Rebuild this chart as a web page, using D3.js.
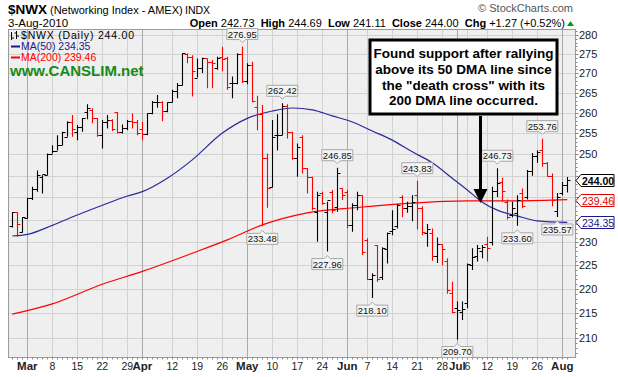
<!DOCTYPE html>
<html lang="en">
<head>
<meta charset="UTF-8" />
<title>$NWX Daily</title>
<style>
  body { margin: 0; background: #fff; }
  svg text { font-family: "Liberation Sans", Arial, sans-serif; }
</style>
</head>
<body>
<div id="chart"></div>
<script src="https://cdnjs.cloudflare.com/ajax/libs/d3/7.8.5/d3.min.js"></script>
<script>
// trading days shown on the chart
const dates = [
  "2010-02-24","2010-02-25","2010-02-26",
  "2010-03-01","2010-03-02","2010-03-03","2010-03-04","2010-03-05",
  "2010-03-08","2010-03-09","2010-03-10","2010-03-11","2010-03-12",
  "2010-03-15","2010-03-16","2010-03-17","2010-03-18","2010-03-19",
  "2010-03-22","2010-03-23","2010-03-24","2010-03-25","2010-03-26",
  "2010-03-29","2010-03-30","2010-03-31","2010-04-01",
  "2010-04-05","2010-04-06","2010-04-07","2010-04-08","2010-04-09",
  "2010-04-12","2010-04-13","2010-04-14","2010-04-15","2010-04-16",
  "2010-04-19","2010-04-20","2010-04-21","2010-04-22","2010-04-23",
  "2010-04-26","2010-04-27","2010-04-28","2010-04-29","2010-04-30",
  "2010-05-03","2010-05-04","2010-05-05","2010-05-06","2010-05-07",
  "2010-05-10","2010-05-11","2010-05-12","2010-05-13","2010-05-14",
  "2010-05-17","2010-05-18","2010-05-19","2010-05-20","2010-05-21",
  "2010-05-24","2010-05-25","2010-05-26","2010-05-27","2010-05-28",
  "2010-06-01","2010-06-02","2010-06-03","2010-06-04",
  "2010-06-07","2010-06-08","2010-06-09","2010-06-10","2010-06-11",
  "2010-06-14","2010-06-15","2010-06-16","2010-06-17","2010-06-18",
  "2010-06-21","2010-06-22","2010-06-23","2010-06-24","2010-06-25",
  "2010-06-28","2010-06-29","2010-06-30","2010-07-01","2010-07-02",
  "2010-07-06","2010-07-07","2010-07-08","2010-07-09",
  "2010-07-12","2010-07-13","2010-07-14","2010-07-15","2010-07-16",
  "2010-07-19","2010-07-20","2010-07-21","2010-07-22","2010-07-23",
  "2010-07-26","2010-07-27","2010-07-28","2010-07-29","2010-07-30",
  "2010-08-02","2010-08-03"
];

const open = [
  233.5, 236.6, 232.3,
  235.4, 239.8, 242.0, 244.7, 245.1,
  250.2, 250.9, 252.3, 254.2, 257.8,
  255.4, 256.6, 260.2, 260.8, 258.7,
  254.6, 257.8, 258.3, 260.2, 255.3,
  256.4, 258.0, 257.7, 256.2,
  254.8, 259.9, 262.7, 262.7, 260.5,
  262.7, 265.4, 267.0, 274.9, 274.3,
  268.9, 271.3, 273.85, 273.0, 271.3,
  274.3, 273.85, 267.5, 267.5, 274.9,
  268.1, 272.1, 261.6, 259.7, 249.1,
  242.3, 254.6, 254.6, 261.8, 255.4,
  249.1, 254.2, 246.7, 244.75, 236.75,
  240.9, 236.75, 241.3, 237.9, 242.1,
  241.3, 233.8, 238.3, 240.5,
  230.5, 222.2, 229.4, 222.5, 228.5,
  232.5, 233.5, 240.0, 237.5, 238.0,
  240.5, 237.5, 232.0, 232.0, 227.0,
  229.5, 226.0, 219.1, 216.0, 215.3,
  217.0, 225.0, 227.0, 228.0,
  229.5, 230.0, 241.5, 243.5, 239.0,
  236.0, 236.5, 241.0, 240.0, 246.0,
  249.5, 251.0, 248.0, 245.0, 237.0,
  241.0, 242.73
];
const high = [
  236.6, 236.6, 235.5,
  239.8, 242.4, 246.2, 245.1, 250.2,
  252.2, 254.6, 255.4, 258.0, 259.5,
  257.05, 258.8, 262.2, 261.2, 258.7,
  258.3, 259.5, 258.5, 260.2, 257.2,
  258.3, 259.9, 258.3, 257.8,
  259.9, 263.0, 264.5, 262.9, 262.7,
  265.8, 267.5, 275.2, 275.2, 274.7,
  273.85, 274.0, 273.85, 273.4, 274.3,
  276.9, 274.3, 269.2, 275.2, 276.95,
  272.6, 273.0, 264.3, 262.0, 250.2,
  258.3, 259.7, 262.42, 262.2, 255.4,
  252.6, 254.6, 246.7, 244.75, 241.3,
  241.3, 239.0, 241.7, 246.85, 242.1,
  241.7, 238.65, 241.3, 240.5,
  230.85, 223.3, 229.4, 228.9, 232.1,
  237.1, 238.5, 240.5, 239.0, 240.5,
  243.83, 238.0, 234.0, 233.0, 231.0,
  229.5, 226.5, 221.5, 217.4, 217.4,
  225.4, 228.7, 229.4, 229.4,
  231.2, 242.4, 246.73, 244.5, 239.5,
  239.0, 240.5, 242.0, 246.3, 250.3,
  251.0, 253.76, 248.2, 245.5, 241.0,
  243.5, 244.69
];
const low = [
  233.2, 231.2, 232.1,
  235.2, 239.4, 241.3, 240.9, 245.1,
  250.2, 250.9, 252.2, 254.2, 254.2,
  253.4, 255.4, 258.5, 257.5, 254.2,
  251.4, 256.2, 255.6, 255.0, 255.0,
  255.8, 256.2, 254.6, 253.4,
  254.6, 259.7, 261.3, 258.0, 260.2,
  262.7, 263.7, 266.9, 272.6, 264.1,
  268.9, 270.05, 266.2, 266.2, 270.9,
  270.5, 265.8, 263.7, 267.2, 267.5,
  267.2, 262.7, 255.8, 233.48, 237.65,
  242.3, 250.9, 254.6, 253.8, 248.7,
  244.75, 245.5, 240.9, 237.1, 230.1,
  238.3, 227.96, 236.4, 236.75, 239.4,
  233.05, 232.3, 237.1, 227.2,
  221.9, 218.10, 221.5, 221.9, 225.4,
  231.5, 233.0, 235.5, 236.5, 234.6,
  232.8, 231.5, 229.0, 226.0, 225.5,
  225.0, 219.0, 215.0, 209.70, 213.6,
  216.0, 224.0, 225.8, 226.5,
  225.8, 229.3, 240.1, 239.0, 235.0,
  235.5, 233.60, 237.5, 239.5, 245.0,
  248.0, 247.1, 244.75, 238.0, 235.57,
  240.5, 241.11
];
const close = [
  236.6, 234.0, 235.5,
  239.8, 242.0, 245.1, 245.3, 250.2,
  250.9, 252.3, 255.4, 257.8, 256.2,
  256.6, 258.7, 261.2, 258.7, 254.6,
  257.8, 258.4, 256.2, 255.3, 256.4,
  258.0, 257.7, 255.0, 254.8,
  259.9, 262.7, 262.8, 260.5, 262.7,
  265.4, 267.0, 275.2, 274.3, 270.6,
  271.3, 273.85, 272.8, 272.6, 273.85,
  273.6, 266.5, 267.5, 274.9, 268.1,
  272.1, 263.0, 259.7, 249.1, 242.1,
  254.2, 254.6, 261.8, 255.3, 249.1,
  251.8, 246.7, 244.75, 237.5, 240.5,
  238.65, 239.4, 237.1, 245.5, 240.5,
  233.8, 238.3, 240.5, 227.9,
  222.2, 223.0, 222.2, 228.7, 232.0,
  233.0, 238.3, 237.5, 238.0, 239.0,
  237.5, 232.3, 233.0, 227.0, 229.5,
  228.5, 219.7, 215.3, 215.6, 215.8,
  225.2, 226.8, 228.7, 229.0,
  228.8, 241.5, 243.3, 241.5, 235.5,
  237.5, 239.5, 238.0, 246.0, 249.5,
  250.5, 248.0, 245.0, 239.5, 240.0,
  242.73, 244.00
];

// moving averages at weekly points
const ma50Dates = ["2010-02-24","2010-03-01","2010-03-08","2010-03-15","2010-03-22","2010-03-29","2010-04-01",
  "2010-04-09","2010-04-16","2010-04-26","2010-05-03","2010-05-10","2010-05-14","2010-05-20","2010-05-26",
  "2010-06-02","2010-06-08","2010-06-14","2010-06-18","2010-06-24","2010-06-30","2010-07-06","2010-07-09",
  "2010-07-14","2010-07-20","2010-07-26","2010-08-03"];
const ma50 = [231.35, 231.7, 233.7, 236.0, 238.2, 240.3, 241.3,
  244.4, 248.7, 255.1, 258.7, 260.5, 261.25, 260.8, 259.3,
  257.8, 255.6, 253.4, 250.6, 248.0, 244.4, 241.7, 238.9,
  237.1, 235.8, 234.7, 234.35];
const ma200Dates = ["2010-02-24","2010-03-08","2010-03-22","2010-04-01","2010-04-16","2010-04-27","2010-05-06",
  "2010-05-19","2010-06-03","2010-06-18","2010-07-06","2010-07-20","2010-08-03"];
const ma200 = [214.8, 216.9, 221.0, 223.7, 227.6, 230.5, 233.8,
  236.5, 237.7, 238.7, 239.2, 239.2, 239.46];

const yTicks = [210, 215, 220, 225, 230, 235, 240, 245, 250, 255, 260, 265, 270, 275, 280];
// 235, 240 and 245 sit under the last-value markers, so they carry no text
const yTickLabels = ["210","215","220","225","230","","","","250","255","260","265","270","275","280"];
const xTickDates = ["2010-03-01","2010-03-08","2010-03-15","2010-03-22","2010-03-29","2010-04-01","2010-04-12",
  "2010-04-19","2010-04-26","2010-05-03","2010-05-10","2010-05-17","2010-05-24","2010-06-01","2010-06-07",
  "2010-06-14","2010-06-21","2010-06-28","2010-07-01","2010-07-06","2010-07-12","2010-07-19","2010-07-26","2010-08-02"];
const xTickLabels = ["Mar","8","15","22","29","Apr","12","19","26","May","10","17","24","Jun","7",
  "14","21","28","Jul","6","12","19","26","Aug"];

const noteDates = ["2010-04-30","2010-05-12","2010-05-06","2010-05-27","2010-05-25","2010-06-08",
  "2010-06-21","2010-07-01","2010-07-14","2010-07-20","2010-07-27","2010-07-30"];
const noteValues = [276.95, 262.42, 233.48, 246.85, 227.96, 218.10, 243.83, 209.70, 246.73, 233.60, 253.76, 235.57];
const noteBelow = [false, false, true, false, true, true, false, true, false, true, false, true];

const width = 618, height = 377;
const plot = { left: 8, right: 575, top: 29, bottom: 357 };

const x = d3.scalePoint().domain(dates).range([12.3, 567.3]);
const y = d3.scaleLog().domain([206.24, 281.6]).range([plot.bottom, plot.top]);

const svg = d3.select("#chart").append("svg")
  .attr("width", width).attr("height", height);

// plot background
svg.append("rect")
  .attr("x", plot.left).attr("y", plot.top)
  .attr("width", plot.right - plot.left).attr("height", plot.bottom - plot.top)
  .attr("fill", "#efefef");

svg.append("clipPath").attr("id", "clip").append("rect")
  .attr("x", plot.left).attr("y", plot.top)
  .attr("width", plot.right - plot.left).attr("height", plot.bottom - plot.top);

// grid
svg.append("g").selectAll("line").data(yTicks).join("line")
  .attr("x1", plot.left).attr("x2", plot.right)
  .attr("y1", d => Math.round(y(d)) + 0.5).attr("y2", d => Math.round(y(d)) + 0.5)
  .attr("stroke", "#d2d2d2");

svg.append("g").selectAll("line").data(xTickDates).join("line")
  .attr("x1", d => Math.round(x(d)) + 0.5).attr("x2", d => Math.round(x(d)) + 0.5)
  .attr("y1", plot.top).attr("y2", plot.bottom)
  .attr("stroke", (d, i) => isNaN(+xTickLabels[i]) ? "#aaaaaa" : "#d2d2d2");

// plot frame
svg.append("rect")
  .attr("x", plot.left + 0.5).attr("y", plot.top + 0.5)
  .attr("width", plot.right - plot.left).attr("height", plot.bottom - plot.top)
  .attr("fill", "none").attr("stroke", "#9a9a9a");

// minor ticks, right axis and bottom
const minorVals = d3.range(207, 282);
svg.append("g").selectAll("line").data(minorVals).join("line")
  .attr("x1", plot.right + 0.5).attr("x2", d => plot.right + (d % 5 === 0 ? 3.5 : 2.5))
  .attr("y1", d => Math.round(y(d)) + 0.5).attr("y2", d => Math.round(y(d)) + 0.5)
  .attr("stroke", "#888");
svg.append("g").selectAll("line").data(dates).join("line")
  .attr("x1", d => Math.round(x(d)) + 0.5).attr("x2", d => Math.round(x(d)) + 0.5)
  .attr("y1", plot.bottom + 0.5).attr("y2", plot.bottom + 2.5)
  .attr("stroke", "#888");

// right axis labels
svg.append("g").selectAll("text").data(yTicks).join("text")
  .attr("x", plot.right + 4).attr("y", d => y(d) + 4)
  .attr("font-size", 11).attr("fill", "#222")
  .text((d, i) => yTickLabels[i]);

// bottom axis labels
svg.append("g").selectAll("text").data(xTickDates).join("text")
  .attr("x", d => x(d)).attr("y", 370)
  .attr("text-anchor", "middle")
  .attr("font-size", (d, i) => isNaN(+xTickLabels[i]) ? 11.5 : 10.5)
  .attr("font-weight", (d, i) => isNaN(+xTickLabels[i]) ? "bold" : "normal")
  .attr("fill", "#222")
  .text((d, i) => xTickLabels[i]);

const body = svg.append("g").attr("clip-path", "url(#clip)");

// moving averages
const line = d3.line().curve(d3.curveMonotoneX);
body.append("path")
  .attr("d", line(ma200Dates.map((d, i) => [x(d), y(ma200[i])])))
  .attr("fill", "none").attr("stroke", "#ff0000").attr("stroke-width", 1.2);
body.append("path")
  .attr("d", line(ma50Dates.map((d, i) => [x(d), y(ma50[i])])))
  .attr("fill", "none").attr("stroke", "#2a2a9c").attr("stroke-width", 1.2);

// OHLC bars
const bars = dates.map((d, i) => ({
  d, o: open[i], h: high[i], l: low[i], c: close[i],
  up: i === 0 ? true : close[i] >= close[i - 1]
}));
const tick = 3;
body.append("g").selectAll("path").data(bars).join("path")
  .attr("d", b => {
    const cx = Math.round(x(b.d)) + 0.5;
    return `M${cx},${y(b.h)}V${y(b.l)}M${cx - tick},${Math.round(y(b.o)) + 0.5}H${cx}M${cx},${Math.round(y(b.c)) + 0.5}H${cx + tick}`;
  })
  .attr("fill", "none")
  .attr("stroke", b => b.up ? "#000" : "#ff0000")
  .attr("stroke-width", 1.1);

// high / low callouts
const noteG = svg.append("g");
noteDates.forEach((d, i) => {
  const cx = x(d), yv = y(noteValues[i]), below = noteBelow[i];
  const w = 31, h = 11;
  const l = cx - w / 2, r = cx + w / 2;
  let p;
  if (below) {
    const t = yv + 7;
    p = `M${l},${t}H${cx - 3}L${cx},${t - 3}L${cx + 3},${t}H${r}V${t + h}H${l}Z`;
    noteG.append("path").attr("d", p).attr("fill", "#f4f4f4").attr("stroke", "#a8a8a8");
    noteG.append("text").attr("x", cx).attr("y", t + 9).attr("text-anchor", "middle")
      .attr("font-size", 9.5).attr("fill", "#111").text(noteValues[i].toFixed(2));
  } else {
    const b = yv - 7;
    p = `M${l},${b}H${cx - 3}L${cx},${b + 3}L${cx + 3},${b}H${r}V${b - h}H${l}Z`;
    noteG.append("path").attr("d", p).attr("fill", "#f4f4f4").attr("stroke", "#a8a8a8");
    noteG.append("text").attr("x", cx).attr("y", b - 2).attr("text-anchor", "middle")
      .attr("font-size", 9.5).attr("fill", "#111").text(noteValues[i].toFixed(2));
  }
});

// last value markers on right axis
const lastMarks = [
  { v: 244.00, color: "#000", bold: true },
  { v: 239.46, color: "#e00000", bold: false },
  { v: 234.35, color: "#1a1a8c", bold: false }
];
lastMarks.forEach(m => {
  const yy = Math.round(y(m.v)) + 0.5, x0 = plot.right + 1;
  svg.append("path")
    .attr("d", `M${x0},${yy}L${x0 + 5},${yy - 6}H${x0 + 38}V${yy + 6}H${x0 + 5}Z`)
    .attr("fill", "#fff").attr("stroke", m.color);
  svg.append("text").attr("x", x0 + 6).attr("y", yy + 4)
    .attr("font-size", 10.5).attr("font-weight", m.bold ? "bold" : "normal")
    .attr("fill", m.color).text(m.v.toFixed(2));
});

// legend inside plot
svg.append("path").attr("d", "M11.5,32V40M11.5,38H14M16.5,31V39M14.5,33H16.5M16.5,36H19")
  .attr("stroke", "#000").attr("fill", "none");
svg.append("text").attr("x", 21).attr("y", 39).attr("font-size", 10.5)
  .attr("letter-spacing", 0.8).attr("fill", "#000").text("$NWX (Daily) 244.00");
svg.append("line").attr("x1", 11).attr("x2", 20).attr("y1", 46.5).attr("y2", 46.5)
  .attr("stroke", "#1a1a8c").attr("stroke-width", 2);
svg.append("text").attr("x", 21).attr("y", 50).attr("font-size", 10.5)
  .attr("fill", "#1a1a8c").text("MA(50) 234.35");
svg.append("line").attr("x1", 11).attr("x2", 20).attr("y1", 57.5).attr("y2", 57.5)
  .attr("stroke", "#ff0000").attr("stroke-width", 2);
svg.append("text").attr("x", 21).attr("y", 61).attr("font-size", 10.5)
  .attr("fill", "#ff0000").text("MA(200) 239.46");
svg.append("text").attr("x", 10).attr("y", 76).attr("font-size", 15)
  .attr("font-weight", "bold").attr("fill", "#178a17").text("www.CANSLIM.net");

// header
svg.append("text").attr("x", 8).attr("y", 14).attr("font-size", 13.5).attr("font-weight", "bold")
  .text("$NWX");
svg.append("text").attr("x", 50).attr("y", 14).attr("font-size", 11)
  .text("(Networking Index - AMEX)");
svg.append("text").attr("x", 185).attr("y", 14).attr("font-size", 10.5)
  .text("INDX");
svg.append("text").attr("x", 8).attr("y", 27).attr("font-size", 11.5).text("3-Aug-2010");
svg.append("text").attr("x", 573).attr("y", 12).attr("font-size", 11).attr("text-anchor", "end")
  .attr("fill", "#555").text("\u00a9 StockCharts.com");

const hdr = svg.append("text").attr("x", 565).attr("y", 27).attr("font-size", 11)
  .attr("text-anchor", "end");
[["Open", true], [" 242.73  ", false], ["High", true], [" 244.69  ", false], ["Low", true],
 [" 241.11  ", false], ["Close", true], [" 244.00  ", false], ["Chg", true], [" +1.27 (+0.52%)", false]]
  .forEach(([t, b]) => hdr.append("tspan").attr("font-weight", b ? "bold" : "normal")
    .attr("xml:space", "preserve").text(t));
svg.append("path").attr("d", "M567,26L570.5,21L574,26Z").attr("fill", "#00a000");

// annotation
svg.append("rect").attr("x", 370).attr("y", 40).attr("width", 187).attr("height", 74)
  .attr("fill", "#fff").attr("stroke", "#000").attr("stroke-width", 3);
const noteLines = ["Found support after rallying", "above its 50 DMA line since",
  "the \"death cross\" with its", "200 DMA line occurred."];
svg.append("g").selectAll("text").data(noteLines).join("text")
  .attr("x", 463.5).attr("y", (d, i) => 58 + i * 15.8)
  .attr("text-anchor", "middle").attr("font-size", 13.5).attr("font-weight", "bold")
  .text(d => d);
svg.append("line").attr("x1", 480.5).attr("x2", 480.5).attr("y1", 116).attr("y2", 190)
  .attr("stroke", "#000").attr("stroke-width", 3);
svg.append("path").attr("d", "M473.5,189L487.5,189L480.5,203Z").attr("fill", "#000");
</script>
</body>
</html>
